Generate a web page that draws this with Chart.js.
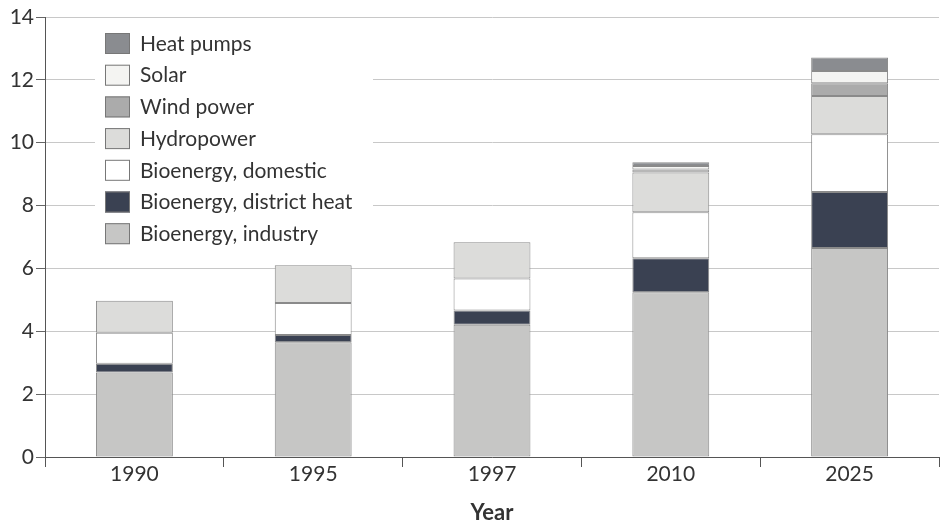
<!DOCTYPE html>
<html>
<head>
<meta charset="utf-8">
<script src="https://cdn.jsdelivr.net/npm/chart.js@4"></script>
<style>
html,body{margin:0;padding:0;background:#fff;}
#wrap{width:940px;height:522px;position:relative;}
</style>
</head>
<body>
<div id="wrap"><canvas id="c" width="940" height="522"></canvas></div>
<script>
const years = ["1990", "1995", "1997", "2010", "2025"];
const bioIndustry = [2.69, 3.65, 4.21, 5.24, 6.65];
const bioDistrictHeat = [0.28, 0.23, 0.45, 1.08, 1.78];
const bioDomestic = [0.98, 1.02, 1.02, 1.47, 1.84];
const hydropower = [1.02, 1.20, 1.15, 1.26, 1.22];
const windPower = [0, 0, 0, 0.10, 0.40];
const solar = [0, 0, 0, 0.11, 0.39];
const heatPumps = [0, 0, 0, 0.12, 0.43];
const yTicks = [0, 2, 4, 6, 8, 10, 12, 14];

const FONT = "Lato, 'Open Sans', sans-serif";

function ds(label, data, color) {
  return {
    label, data, backgroundColor: color,
    borderColor: '#8a8a8a',
    borderWidth: (ctx) => (ctx.raw > 0 ? 1 : 0),
    borderSkipped: false,
    barPercentage: 0.43, categoryPercentage: 1
  };
}

const legendPlugin = {
  id: 'insideLegend',
  afterDraw(chart) {
    const ctx = chart.ctx;
    ctx.save();
    ctx.fillStyle = '#fff';
    ctx.fillRect(95, 24, 278, 228);
    const items = chart.data.datasets.slice().reverse();
    ctx.font = "21px " + FONT;
    ctx.textBaseline = 'middle';
    items.forEach((d, i) => {
      const y = 33 + i * 31.7;
      ctx.fillStyle = d.backgroundColor;
      ctx.fillRect(105, y, 25, 21);
      ctx.strokeStyle = '#777';
      ctx.lineWidth = 1;
      ctx.strokeRect(105.5, y + 0.5, 24, 20);
      ctx.fillStyle = '#333';
      ctx.fillText(d.label, 140, y + 11);
    });
    ctx.restore();
  }
};

new Chart(document.getElementById('c'), {
  type: 'bar',
  data: {
    labels: years,
    datasets: [
      ds('Bioenergy, industry', bioIndustry, '#c6c6c5'),
      ds('Bioenergy, district heat', bioDistrictHeat, '#3a4152'),
      ds('Bioenergy, domestic', bioDomestic, '#ffffff'),
      ds('Hydropower', hydropower, '#dcdcda'),
      ds('Wind power', windPower, '#ababab'),
      ds('Solar', solar, '#f4f4f2'),
      ds('Heat pumps', heatPumps, '#8a8c90')
    ]
  },
  options: {
    responsive: false,
    animation: false,
    layout: { padding: { top: 17, right: 1, left: 0, bottom: 0 } },
    plugins: { legend: { display: false }, tooltip: { enabled: false } },
    scales: {
      x: {
        stacked: true,
        grid: { offset: true, drawOnChartArea: false, tickLength: 10, color: '#555', lineWidth: 1 },
        border: { color: '#555', width: 1 },
        ticks: { color: '#333', font: { family: FONT, size: 21 }, padding: -5 },
        title: { display: true, text: 'Year', color: '#333', font: { family: FONT, size: 22, weight: 'bold' }, padding: { top: 0, bottom: -4 } },
        afterFit(scale) { scale.height = 65; }
      },
      y: {
        stacked: true,
        min: 0, max: 14,
        afterBuildTicks(scale) { scale.ticks = yTicks.map(v => ({ value: v })); },
        grid: { color: '#c8c8c8', tickColor: '#666', tickLength: 9, lineWidth: 1 },
        border: { color: '#555', width: 1 },
        ticks: { color: '#333', font: { family: FONT, size: 21 }, padding: 2 },
        afterFit(scale) { scale.width = 45; }
      }
    }
  },
  plugins: [legendPlugin]
});
</script>
</body>
</html>
